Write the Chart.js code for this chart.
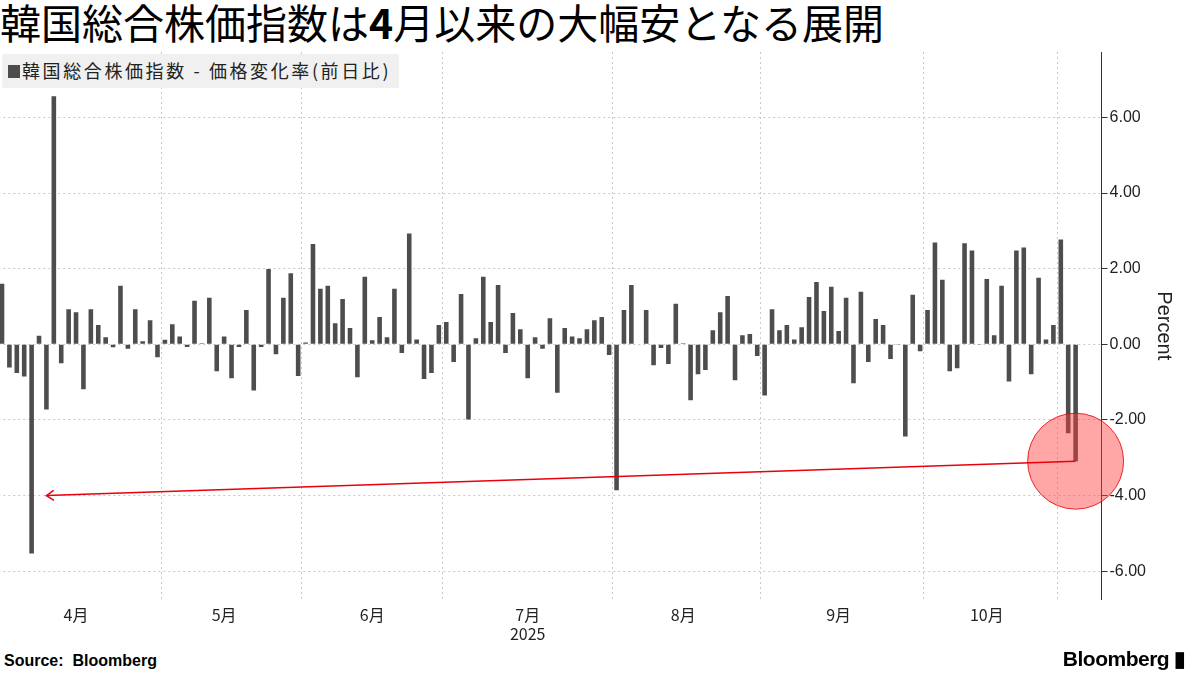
<!DOCTYPE html>
<html><head><meta charset="utf-8">
<script src="https://cdn.jsdelivr.net/npm/chart.js@4"></script>
<style>
body{margin:0;width:1200px;height:675px;overflow:hidden;background:#fff;font-family:"Noto Sans CJK JP","Noto Sans",sans-serif;position:relative}
#title{position:absolute;left:0px;top:-9px;font-size:41px;font-weight:normal;color:#000;white-space:nowrap}
#legend{position:absolute;left:2px;top:54px;background:#f0f0f0;padding:3px 8px 5px 6px;font-size:18px;color:#222;letter-spacing:2.6px;border-radius:2px;white-space:nowrap}
#legend span{display:inline-block;width:12px;height:13px;background:#4d4d4d;margin-right:2px}
#src{position:absolute;left:4px;top:652px;font-size:16px;font-weight:bold;font-family:"Liberation Sans",sans-serif}
#bb{position:absolute;right:14px;top:647px;font-size:21px;font-weight:bold;font-family:"Liberation Sans",sans-serif;letter-spacing:-0.5px}
#wrap{position:absolute;left:-4px;top:40px;width:1200px;height:610px}
</style></head><body>
<div id="title">韓国総合株価指数は<b>4</b>月以来の大幅安となる展開</div>
<div id="wrap"><canvas id="c"></canvas></div>
<div id="legend"><span></span>韓国総合株価指数 - 価格変化率(前日比)</div>
<div id="src">Source:&nbsp; Bloomberg</div>
<div id="bb">Bloomberg ▮</div>
<script>
const values = [1.6,-0.61,-0.76,-0.85,-5.53,0.23,-1.72,6.56,-0.5,0.93,0.85,-1.19,0.93,0.51,0.19,-0.08,1.55,-0.12,0.93,0.08,0.64,-0.34,0.12,0.53,0.21,-0.07,1.15,0.03,1.23,-0.71,0.21,-0.9,-0.07,0.91,-1.22,-0.07,1.99,-0.26,
1.23,1.88,-0.84,0.05,2.65,1.47,1.55,0.56,1.2,0.43,-0.87,1.79,0.11,0.72,0.19,1.47,-0.23,2.93,0.13,-0.92,-0.76,0.51,0.59,-0.47,1.33,-1.99,0.16,1.79,0.59,1.57,-0.23,0.83,0.4,-0.9,0.19,-0.12,0.69,
-1.28,0.43,0.21,0.16,0.4,0.64,0.72,-0.28,-3.86,0.91,1.57,-0.01,0.91,-0.55,-0.1,-0.52,1.07,0.03,-1.48,-0.79,-0.68,0.37,0.85,1.28,-0.95,0.24,0.27,-0.31,-1.35,0.93,0.37,0.51,0.13,0.45,1.25,1.65,
0.88,1.52,0.35,1.23,-1.03,1.39,-0.47,0.67,0.51,-0.39,-0.02,-2.44,1.31,-0.18,0.91,2.69,1.71,-0.71,-0.63,2.67,2.48,-0.02,1.73,0.24,1.55,-0.98,2.48,2.56,-0.79,1.76,0.13,0.51,2.77,-2.35,-3.09];
const padCount = 3;
const monthNames = ['4月','5月','6月',['7月','2025'],'8月','9月','10月'];
const monthLabelIdx = [10,30,50,71,92,113,133];
const monthStartIdx = [22,41,60,83,103,125,143];
const yTicks = [-6,-4,-2,0,2,4,6];
const arrowFrom = {i:145, v:-3.09};
const arrowTo = {i:6, v:-4.0};

const data = values.concat(Array(padCount).fill(null));
const labels = data.map((_,i)=>{const k=monthLabelIdx.indexOf(i);return k>=0?monthNames[k]:'';});

const annot = {id:'annot',afterDatasetsDraw(ch){
  const c=ch.ctx,x=ch.scales.x,y=ch.scales.y;
  const x1=x.getPixelForValue(arrowFrom.i),y1=y.getPixelForValue(arrowFrom.v);
  const x2=x.getPixelForValue(arrowTo.i),y2=y.getPixelForValue(arrowTo.v);
  c.save();
  c.beginPath();c.arc(x1,y1,48,0,Math.PI*2);c.fillStyle='rgba(255,60,60,0.45)';c.fill();
  c.strokeStyle='rgba(230,0,0,0.8)';c.lineWidth=1;c.stroke();
  c.strokeStyle='#e8000b';c.lineWidth=1.5;
  c.beginPath();c.moveTo(x1,y1);c.lineTo(x2,y2);c.stroke();
  const a=Math.atan2(y1-y2,x1-x2);
  c.beginPath();c.moveTo(x2+9*Math.cos(a-0.6),y2+9*Math.sin(a-0.6));c.lineTo(x2,y2);c.lineTo(x2+9*Math.cos(a+0.6),y2+9*Math.sin(a+0.6));c.stroke();
  c.restore();
}};

new Chart(document.getElementById('c'),{
  type:'bar',
  data:{labels,datasets:[{data,backgroundColor:'#4d4d4d',barPercentage:0.62,categoryPercentage:1}]},
  options:{responsive:true,maintainAspectRatio:false,animation:false,
    layout:{padding:{top:12,right:16,bottom:0,left:0}},
    plugins:{legend:{display:false},tooltip:{enabled:false}},
    scales:{
      x:{offset:true,grid:{offset:true,drawTicks:false,color:(ctx)=>monthStartIdx.includes(ctx.index)?'#c8c8c8':'rgba(0,0,0,0)'},
        border:{display:false,dash:[2,3]},
        ticks:{autoSkip:false,maxRotation:0,color:'#222',font:{size:16,family:'"Noto Sans CJK JP"'},padding:6}},
      y:{position:'right',min:-6.75,max:7.73,
        afterBuildTicks(ax){ax.ticks=yTicks.map(v=>({value:v}));},
        grid:{color:'#c8c8c8',tickColor:'#333',tickLength:6},
        border:{display:true,color:'#333',dash:[2,3]},
        ticks:{color:'#222',font:{size:16,family:'"Liberation Sans"'},padding:2,callback:v=>v.toFixed(2)},
        title:{display:true,text:'Percent',color:'#222',font:{size:20,family:'"Liberation Sans"'}}}
    }},
  plugins:[annot]
});
</script></body></html>
